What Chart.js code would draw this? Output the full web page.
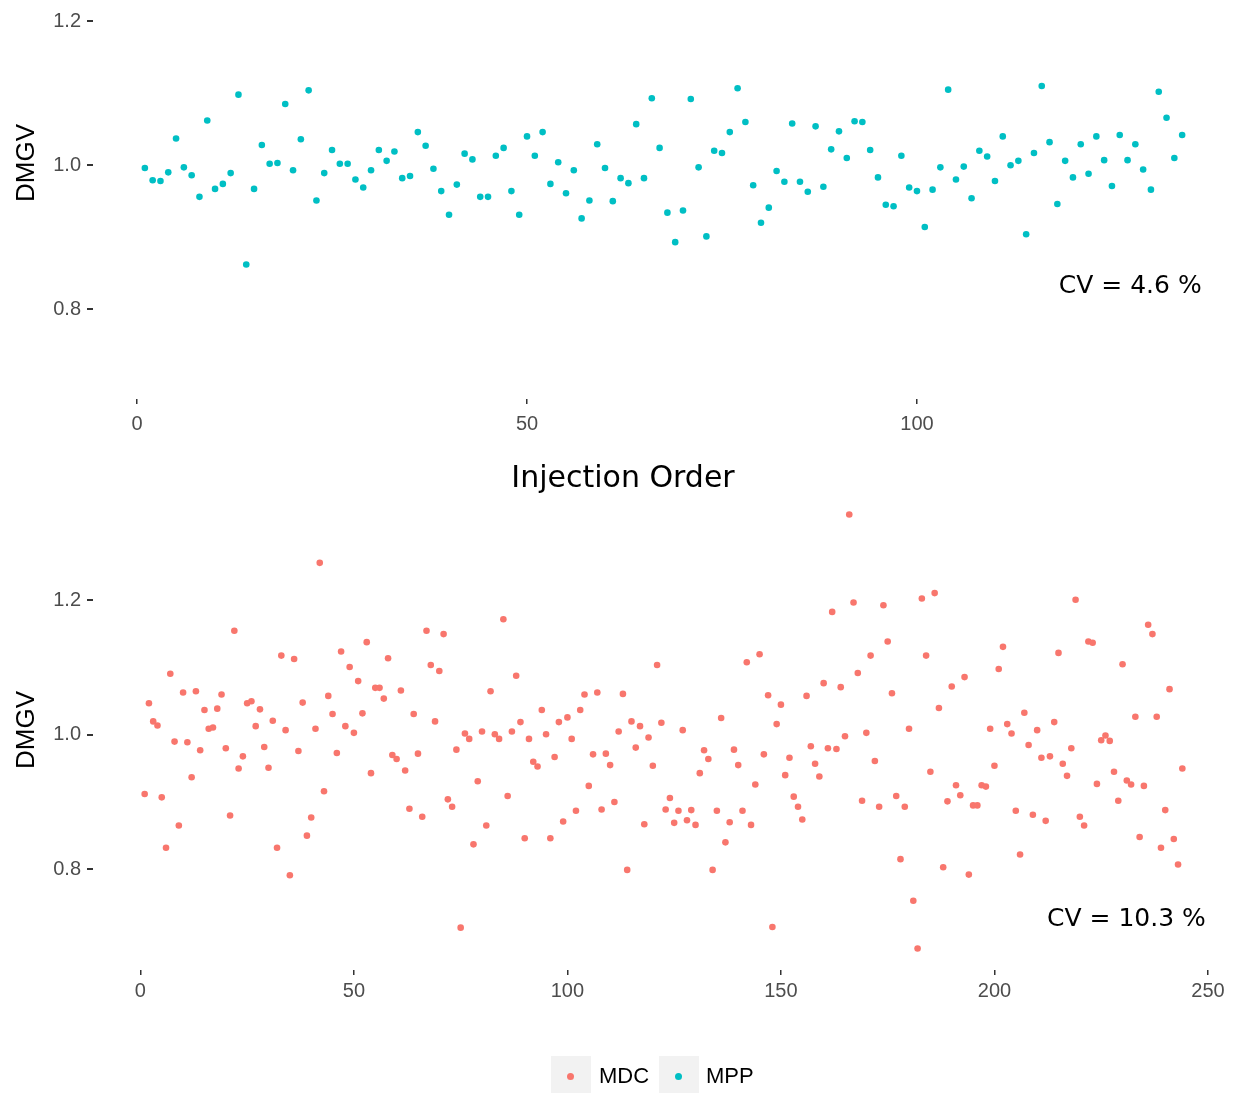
<!DOCTYPE html>
<html>
<head>
<meta charset="utf-8">
<script src="https://cdn.jsdelivr.net/npm/chart.js@4.4.0/dist/chart.umd.min.js"></script>
<style>
  body { margin: 0; background: #fff; }
  #wrap { position: relative; width: 1239px; height: 1093px; overflow: hidden; }
  canvas { position: absolute; left: 0; }
  .ytitle { position: absolute; font: 26px "Liberation Sans", Arial, sans-serif; color: #000;
            transform: translate(-50%, -50%) rotate(-90deg); white-space: nowrap; line-height: 1; }
  .xtitle { position: absolute; font: 30px "DejaVu Sans", Verdana, sans-serif; color: #000;
            transform: translate(-50%, -50%); white-space: nowrap; line-height: 1; }
  .key { position: absolute; top: 1056px; width: 40px; height: 40px; background: #f2f2f2; }
  .key span { position: absolute; left: 16px; top: 17px; width: 7px; height: 7px; border-radius: 50%; }
  .lab { position: absolute; top: 1076px; font: 22px "Liberation Sans", Arial, sans-serif; color: #000;
         transform: translateY(-50%); line-height: 1; }
</style>
</head>
<body>
<div id="wrap">
  <canvas id="mppChart" width="1239" height="440" style="top:0"></canvas>
  <canvas id="mdcChart" width="1239" height="653" style="top:440px"></canvas>
  <div class="ytitle" style="left:25px; top:163px">DMGV</div>
  <div class="ytitle" style="left:25px; top:730px">DMGV</div>
  <div class="xtitle" style="left:623px; top:477px">Injection Order</div>
  <div class="key" style="left:551px"><span style="background:#F8766D"></span></div>
  <div class="lab" style="left:599px">MDC</div>
  <div class="key" style="left:659px"><span style="background:#00BFC4"></span></div>
  <div class="lab" style="left:706px">MPP</div>
</div>
<script>
// MPP (top panel), injection order 1..134
const mppValues = [
  0.996, 0.979, 0.978, 0.990, 1.037, 0.997, 0.986, 0.956, 1.062, 0.967,
  0.974, 0.989, 1.098, 0.862, 0.967, 1.028, 1.002, 1.003, 1.085, 0.993,
  1.036, 1.104, 0.951, 0.989, 1.021, 1.002, 1.002, 0.980, 0.969, 0.993,
  1.021, 1.006, 1.019, 0.982, 0.985, 1.046, 1.027, 0.995, 0.964, 0.931,
  0.973, 1.016, 1.008, 0.956, 0.956, 1.013, 1.024, 0.964, 0.931, 1.040,
  1.013, 1.046, 0.974, 1.004, 0.961, 0.993, 0.926, 0.951, 1.029, 0.996,
  0.950, 0.982, 0.975, 1.057, 0.982, 1.093, 1.024, 0.934, 0.893, 0.937,
  1.092, 0.997, 0.901, 1.020, 1.017, 1.046, 1.107, 1.060, 0.972, 0.920,
  0.941, 0.992, 0.977, 1.058, 0.977, 0.963, 1.054, 0.970, 1.022, 1.047,
  1.010, 1.061, 1.060, 1.021, 0.983, 0.945, 0.943, 1.013, 0.969, 0.964,
  0.914, 0.966, 0.997, 1.105, 0.980, 0.998, 0.954, 1.020, 1.012, 0.978,
  1.040, 1.000, 1.006, 0.904, 1.017, 1.110, 1.032, 0.946, 1.006, 0.983,
  1.029, 0.988, 1.040, 1.007, 0.971, 1.042, 1.007, 1.029, 0.994, 0.966,
  1.102, 1.066, 1.010, 1.042
];

// MDC (bottom panel), injection order 1..244
const mdcValues = [
  0.912, 1.047, 1.020, 1.014, 0.907, 0.832, 1.091, 0.990, 0.865, 1.063,
  0.989, 0.937, 1.065, 0.977, 1.037, 1.009, 1.011, 1.039, 1.060, 0.980,
  0.880, 1.155, 0.950, 0.968, 1.047, 1.050, 1.013, 1.038, 0.982, 0.951,
  1.021, 0.832, 1.118, 1.007, 0.791, 1.113, 0.976, 1.048, 0.850, 0.877,
  1.009, 1.256, 0.916, 1.058, 1.031, 0.973, 1.124, 1.013, 1.101, 1.003,
  1.080, 1.032, 1.138, 0.943, 1.070, 1.070, 1.054, 1.114, 0.970, 0.964,
  1.066, 0.947, 0.890, 1.031, 0.972, 0.878, 1.155, 1.104, 1.020, 1.095,
  1.150, 0.904, 0.893, 0.978, 0.713, 1.002, 0.994, 0.837, 0.931, 1.005,
  0.865, 1.065, 1.001, 0.994, 1.172, 0.909, 1.005, 1.088, 1.019, 0.846,
  0.994, 0.960, 0.953, 1.037, 1.001, 0.846, 0.967, 1.019, 0.871, 1.026,
  0.994, 0.887, 1.037, 1.060, 0.924, 0.971, 1.063, 0.889, 0.972, 0.955,
  0.900, 1.005, 1.061, 0.799, 1.020, 0.981, 1.013, 0.867, 0.996, 0.954,
  1.104, 1.018, 0.889, 0.906, 0.869, 0.887, 1.007, 0.873, 0.888, 0.866,
  0.943, 0.977, 0.964, 0.799, 0.887, 1.025, 0.840, 0.870, 0.978, 0.955,
  0.887, 1.108, 0.866, 0.926, 1.120, 0.971, 1.059, 0.714, 1.016, 1.045,
  0.940, 0.966, 0.908, 0.893, 0.874, 1.058, 0.983, 0.957, 0.938, 1.077,
  0.980, 1.183, 0.979, 1.071, 0.998, 1.328, 1.197, 1.092, 0.902, 1.003,
  1.118, 0.961, 0.893, 1.193, 1.139, 1.062, 0.909, 0.815, 0.893, 1.009,
  0.753, 0.682, 1.203, 1.118, 0.945, 1.211, 1.040, 0.803, 0.901, 1.072,
  0.925, 0.910, 1.086, 0.792, 0.895, 0.895, 0.925, 0.923, 1.009, 0.954,
  1.098, 1.131, 1.016, 1.002, 0.887, 0.822, 1.033, 0.985, 0.881, 1.007,
  0.966, 0.872, 0.968, 1.019, 1.122, 0.957, 0.939, 0.980, 1.201, 0.878,
  0.865, 1.139, 1.137, 0.927, 0.992, 0.999, 0.991, 0.945, 0.902, 1.105,
  0.932, 0.926, 1.027, 0.848, 0.924, 1.164, 1.150, 1.027, 0.832, 0.888,
  1.068, 0.845, 0.807, 0.950
];

const yTicks = [0.8, 1.0, 1.2];
const mppXTicks = [0, 50, 100];
const mdcXTicks = [0, 50, 100, 150, 200, 250];
const mppCv = 'CV = 4.6 %';
const mdcCv = 'CV = 10.3 %';

const tickFont = { family: '"Liberation Sans", Arial, sans-serif', size: 20 };

// draws the CV label inside the panel, anchored in data coordinates
const cvLabel = {
  id: 'cvLabel',
  afterDatasetsDraw(chart, args, opts) {
    const ctx = chart.ctx;
    ctx.save();
    ctx.font = '25px "DejaVu Sans", Verdana, sans-serif';
    ctx.fillStyle = '#000';
    ctx.textAlign = 'right';
    ctx.textBaseline = 'middle';
    ctx.fillText(opts.text, chart.scales.x.getPixelForValue(opts.x), chart.scales.y.getPixelForValue(opts.y));
    ctx.restore();
  }
};

function makePanel(canvas, values, color, o) {
  const points = values.map((v, i) => ({ x: i + 1, y: v }));
  return new Chart(canvas, {
    type: 'scatter',
    data: { datasets: [{ data: points, backgroundColor: color, borderWidth: 0, pointRadius: 3.3, pointHoverRadius: 3.3 }] },
    options: {
      responsive: false,
      animation: false,
      events: [],
      layout: { padding: { top: o.padTop, right: 5, left: 0, bottom: 0 } },
      plugins: { legend: { display: false }, tooltip: { enabled: false }, cvLabel: o.cv },
      scales: {
        x: {
          type: 'linear', min: o.xMin, max: o.xMax,
          afterBuildTicks: s => { s.ticks = o.xTicks.map(v => ({ value: v })); },
          afterFit: s => { s.height = o.xHeight; },
          border: { display: false },
          grid: { drawOnChartArea: false, tickLength: 5, color: '#333333', lineWidth: 1.5 },
          ticks: { color: '#4d4d4d', font: tickFont, padding: o.xPad, maxRotation: 0, autoSkip: false }
        },
        y: {
          type: 'linear', min: o.yMin, max: o.yMax,
          afterBuildTicks: s => { s.ticks = yTicks.map(v => ({ value: v })); },
          // fixed axis width; drop the label half-height padding so the panel keeps its full height
          afterFit: s => { s.width = 93; s.paddingTop = 0; s.paddingBottom = 0; },
          border: { display: false },
          grid: { drawOnChartArea: false, tickLength: 6, color: '#333333', lineWidth: 2 },
          ticks: { color: '#4d4d4d', font: tickFont, padding: 6, callback: v => v.toFixed(1) }
        }
      }
    },
    plugins: [cvLabel]
  });
}

makePanel(document.getElementById('mppChart'), mppValues, '#00BFC4', {
  padTop: 0, xHeight: 41, xPad: 8,
  xMin: -5.65, xMax: 140.65, xTicks: mppXTicks,
  yMin: 0.675, yMax: 1.225,
  cv: { text: mppCv, x: 136.5, y: 0.832 }
});

makePanel(document.getElementById('mdcChart'), mdcValues, '#F8766D', {
  padTop: 53, xHeight: 123, xPad: 4,
  xMin: -11.1, xMax: 256.1, xTicks: mdcXTicks,
  yMin: 0.65, yMax: 1.36,
  cv: { text: mdcCv, x: 249.5, y: 0.725 }
});
</script>
</body>
</html>
